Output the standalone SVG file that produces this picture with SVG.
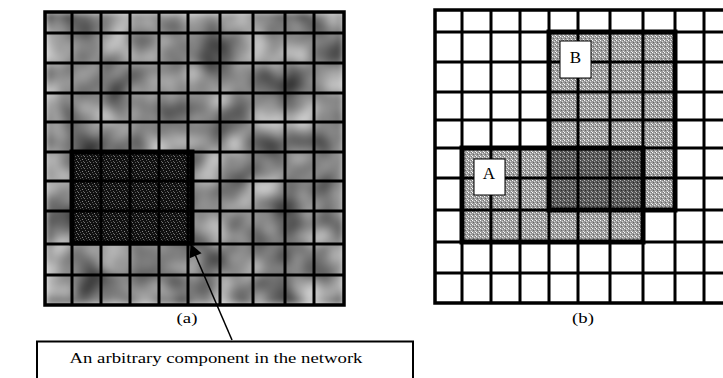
<svg xmlns="http://www.w3.org/2000/svg" width="723" height="378" viewBox="0 0 723 378">
  <style>
    .grid { fill: none; stroke: #000; stroke-width: 3; }
    .frame { fill: none; stroke: #000; stroke-width: 3.5; }
    .bold { fill: none; stroke: #000; stroke-width: 5; }
    .tag { fill: #fff; stroke: #000; stroke-width: 1; }
    .serif { font-family: "Liberation Serif", "Times New Roman", serif; fill: #000; }
  </style>
  <defs>
    <!-- soft mottled grey field for the network image -->
    <filter id="mottle" x="0" y="0" width="1" height="1" color-interpolation-filters="sRGB">
      <feTurbulence type="fractalNoise" baseFrequency="0.03" numOctaves="2" seed="11"/>
      <feColorMatrix type="matrix" values="0.9 0 0 0 0.08  0.9 0 0 0 0.08  0.9 0 0 0 0.08  0 0 0 0 1"/>
      <feGaussianBlur stdDeviation="3"/>
    </filter>
    <!-- dotted dark texture of the highlighted component -->
    <pattern id="darkDots" width="6" height="6" patternUnits="userSpaceOnUse">
      <rect width="6" height="6" fill="#111"/>
      <rect x="0" y="0" width="1" height="1" fill="#777"/>
      <rect x="3" y="0" width="1" height="1" fill="#555"/>
      <rect x="1" y="2" width="1" height="1" fill="#666"/>
      <rect x="4" y="3" width="1" height="1" fill="#888"/>
      <rect x="2" y="4" width="1" height="1" fill="#555"/>
      <rect x="5" y="5" width="1" height="1" fill="#666"/>
    </pattern>
    <!-- light stipple for a single region -->
    <pattern id="lightDots" width="4" height="4" patternUnits="userSpaceOnUse">
      <rect width="4" height="4" fill="#9c9c9c"/>
      <rect x="0" y="0" width="1" height="1" fill="#fff"/>
      <rect x="2" y="1" width="1" height="1" fill="#ddd"/>
      <rect x="1" y="2" width="1" height="1" fill="#666"/>
      <rect x="3" y="3" width="1" height="1" fill="#eee"/>
      <rect x="3" y="0" width="1" height="1" fill="#777"/>
    </pattern>
    <!-- darker stipple where the two regions overlap -->
    <pattern id="overlapDots" width="4" height="4" patternUnits="userSpaceOnUse">
      <rect width="4" height="4" fill="#555"/>
      <rect x="0" y="0" width="1" height="1" fill="#bbb"/>
      <rect x="2" y="1" width="1" height="1" fill="#999"/>
      <rect x="1" y="2" width="1" height="1" fill="#2a2a2a"/>
      <rect x="3" y="3" width="1" height="1" fill="#aaa"/>
    </pattern>
    <marker id="head" viewBox="0 0 10 10" refX="9" refY="5" markerWidth="16" markerHeight="13" markerUnits="userSpaceOnUse" orient="auto">
      <path d="M0,0 L10,5 L0,10 z" fill="#000"/>
    </marker>
  </defs>

  <rect width="723" height="378" fill="#fff"/>

  <!-- panel (a): network image with grid -->
  <g id="panel-a">
    <rect x="45" y="12" width="299" height="293" fill="#888" filter="url(#mottle)"/>
    <g id="component">
      <rect x="72" y="152" width="120" height="91" fill="url(#darkDots)"/>
    </g>
    <path class="grid" d="M72,12V305M101,12V305M130,12V305M159,12V305M188,12V305M220,12V305M253,12V305M285,12V305M314,12V305
                          M45,33H344M45,63H344M45,93H344M45,122H344M45,152H344M45,181H344M45,211H344M45,244H344M45,275H344"/>
    <rect class="bold" x="72" y="152" width="120" height="91" stroke-width="4"/>
    <rect class="frame" x="45" y="12" width="299" height="293"/>
    <text class="serif" font-size="15" text-anchor="middle" transform="translate(187 323) scale(1.25 1)">(a)</text>
  </g>

  <!-- panel (b): two overlapping regions -->
  <g id="panel-b">
    <g id="region-b">
      <rect x="549" y="32" width="126" height="178" fill="url(#lightDots)"/>
    </g>
    <g id="region-a">
      <rect x="462" y="148" width="181" height="94" fill="url(#lightDots)"/>
    </g>
    <rect id="overlap" x="549" y="148" width="94" height="62" fill="url(#overlapDots)"/>
    <path class="grid" d="M462,10V303M491,10V303M520,10V303M549,10V303M578,10V303M610,10V303M643,10V303M675,10V303M704,10V303
                          M435,32H734M435,62H734M435,92H734M435,120H734M435,148H734M435,178H734M435,210H734M435,242H734M435,273H734"/>
    <rect class="frame" x="435" y="10" width="300" height="293"/>
    <rect class="bold" x="549" y="32" width="126" height="178"/>
    <rect class="bold" x="462" y="148" width="181" height="94"/>
    <g id="label-b">
      <rect class="tag" x="560" y="41" width="31" height="37"/>
      <text class="serif" x="575.5" y="63" font-size="17" text-anchor="middle">B</text>
    </g>
    <g id="label-a">
      <rect class="tag" x="474" y="159" width="31" height="36"/>
      <text class="serif" x="489" y="179" font-size="17" text-anchor="middle">A</text>
    </g>
    <text class="serif" font-size="15" text-anchor="middle" transform="translate(583 323) scale(1.25 1)">(b)</text>
  </g>

  <!-- caption box -->
  <g id="caption">
    <path d="M37,378V341.5H413V378" fill="#fff" stroke="#000" stroke-width="2"/>
    <text class="serif" font-size="15" text-anchor="middle" transform="translate(216 363) scale(1.25 1)">An arbitrary component in the network</text>
  </g>

  <!-- connectors -->
  <g id="connectors">
    <line x1="232" y1="340" x2="191" y2="245" stroke="#000" stroke-width="1.5" marker-end="url(#head)"/>
  </g>
</svg>
